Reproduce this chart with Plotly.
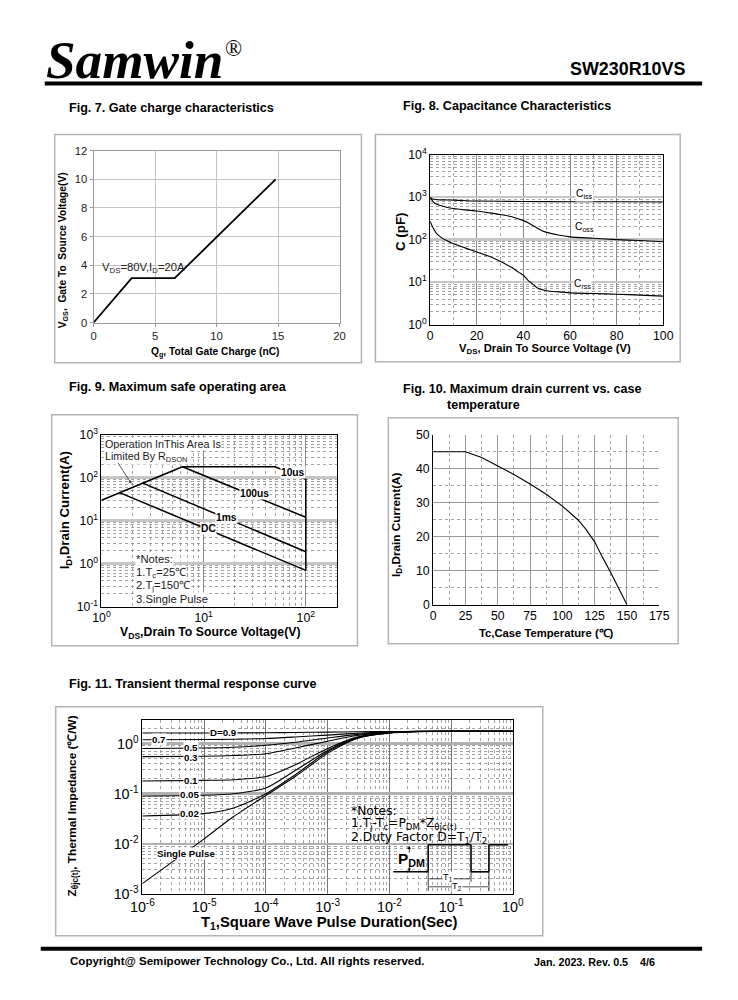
import math
import plotly.graph_objects as go

W, H = 738, 1000
FONT = "Liberation Sans, Arial, Helvetica, sans-serif"
SERIF = "Liberation Serif, Times New Roman, serif"
WIDE = "DejaVu Sans, Verdana, sans-serif"

# the photographed page is shrunk into a padded frame; place items so they land where intended
OFFX, SX = 9.15, 0.9727
OFFY, SY = 8.44, 0.9827
FS = 1.0 / ((SX + SY) / 2)

# ---------------- data ----------------
# Fig 7 gate charge
QG = [0, 3.1, 6.6, 14.8]
VGS = [0, 3.1, 3.1, 10.0]

# Fig 8 capacitance
CISS_V = [0, 1, 3, 6, 10, 20, 40, 60, 80, 100]
CISS = [980, 900, 870, 860, 850, 810, 790, 780, 775, 770]
COSS_V = [0, 1, 2, 4, 7, 10, 15, 20, 25, 30, 35, 40, 42, 44, 46, 48, 50, 55, 60, 70, 80, 90, 100]
COSS = [980, 820, 720, 640, 580, 540, 500, 470, 430, 390, 345, 280, 250, 215, 185, 162, 148, 128, 116, 108, 100, 95, 89]
CRSS_V = [0, 1, 2, 3, 5, 7, 10, 15, 20, 25, 30, 35, 38, 40, 42, 44, 46, 50, 55, 60, 70, 80, 90, 100]
CRSS = [270, 200, 160, 135, 110, 95, 80, 64, 51, 41, 31, 22, 17, 14.5, 11, 9, 7.3, 6.3, 5.9, 5.6, 5.4, 5.2, 4.95, 4.7]

# Fig 9 safe operating area
RDS_V = [1, 6.2]
RDS_I = [30, 180]
T10US_V = [6.2, 50, 100, 100]
T10US_I = [180, 180, 92, 0.7]
T100US_V = [6.2, 100]
T100US_I = [180, 12]
T1MS_V = [2.5, 100]
T1MS_I = [76, 1.9]
DC_V = [1.5, 100]
DC_I = [45, 0.7]

# Fig 10 drain current vs case temperature
TC = [0, 25, 37.5, 50, 62.5, 75, 87.5, 100, 112, 118, 125, 131, 137.5, 150]
ID_TC = [45, 45, 43.3, 40.8, 38.3, 35.5, 32.5, 29, 25, 22.3, 18.5, 14, 9.4, 0]

# Fig 11 transient thermal impedance
T_PULSE = [1e-6, 1e-5, 3e-5, 1e-4, 3e-4, 1e-3, 3e-3, 1e-2, 3e-2, 1e-1, 1]
Z_D09 = [1.63, 1.63, 1.64, 1.65, 1.67, 1.70, 1.73, 1.75, 1.76, 1.77, 1.77]
Z_D07 = [1.20, 1.21, 1.23, 1.27, 1.36, 1.48, 1.62, 1.72, 1.76, 1.77, 1.77]
Z_D05 = [0.80, 0.82, 0.85, 0.93, 1.07, 1.30, 1.53, 1.70, 1.76, 1.77, 1.77]
Z_D03 = [0.55, 0.56, 0.58, 0.63, 0.82, 1.12, 1.46, 1.68, 1.75, 1.77, 1.77]
Z_D01 = [0.18, 0.185, 0.19, 0.22, 0.38, 0.80, 1.35, 1.66, 1.75, 1.77, 1.77]
Z_D005 = [0.09, 0.093, 0.10, 0.13, 0.29, 0.73, 1.31, 1.65, 1.75, 1.77, 1.77]
Z_D002 = [0.036, 0.040, 0.052, 0.10, 0.24, 0.69, 1.29, 1.64, 1.75, 1.77, 1.77]
Z_SINGLE = [0.0016, 0.0125, 0.035, 0.092, 0.22, 0.64, 1.27, 1.63, 1.74, 1.77, 1.77]

CAP_TICKS = [1, 10, 100, 1000, 10000]
SOA_XTICKS = [1, 10, 100]
SOA_YTICKS = [0.1, 1, 10, 100, 1000]
ZTH_XTICKS = [1e-6, 1e-5, 1e-4, 1e-3, 1e-2, 1e-1, 1]
ZTH_YTICKS = [1e-3, 1e-2, 1e-1, 1]


def px(x):
    return ((x - OFFX) / SX) / W


def py(y):
    return 1 - ((y - OFFY) / SY) / H


def fs(s):
    return round(s * FS, 2)


def pow_text(v):
    return "10<sup>%d</sup>" % round(math.log10(v))


def log_minor(e0, e1):
    return [m * 10.0 ** e for e in range(e0, e1) for m in range(2, 10)]


annotations = []
shapes = []


def ann(x, y, text, size=11, xanchor="center", yanchor="middle", angle=0,
        family=FONT, color="#000", bg=None):
    d = dict(x=px(x), y=py(y), xref="paper", yref="paper", text=text, showarrow=False,
             xanchor=xanchor, yanchor=yanchor, textangle=angle, borderpad=0,
             font=dict(family=family, size=fs(size), color=color))
    if bg:
        d["bgcolor"] = bg
    annotations.append(d)


def rect(x0, y0, x1, y1, line_color=None, fill=None, width=1.0):
    shapes.append(dict(type="rect", xref="paper", yref="paper",
                       x0=px(x0), y0=py(y1), x1=px(x1), y1=py(y0),
                       line=dict(color=line_color or "rgba(0,0,0,0)", width=width if line_color else 0),
                       fillcolor=fill or "rgba(0,0,0,0)"))


def seg(x0, y0, x1, y1, color="black", width=1.2):
    shapes.append(dict(type="line", xref="paper", yref="paper",
                       x0=px(x0), y0=py(y0), x1=px(x1), y1=py(y1),
                       line=dict(color=color, width=width)))


def arrow(xh, yh, dx, dy, color="black", width=1.0):
    annotations.append(dict(x=px(xh), y=py(yh), xref="paper", yref="paper", text="",
                            showarrow=True, ax=dx / SX, ay=dy / SY, arrowhead=2, arrowsize=0.8,
                            arrowwidth=width, arrowcolor=color))


fig = go.Figure()

# ---------------- traces ----------------
fig.add_trace(go.Scatter(x=QG, y=VGS, mode="lines", line=dict(color="black", width=1.8),
                         xaxis="x", yaxis="y"))

for xs, ys in [(CISS_V, CISS), (COSS_V, COSS), (CRSS_V, CRSS)]:
    fig.add_trace(go.Scatter(x=xs, y=ys, mode="lines", line=dict(color="black", width=1.1, shape="spline", smoothing=0.6),
                             xaxis="x2", yaxis="y2"))

for xs, ys in [(RDS_V, RDS_I), (T10US_V, T10US_I), (T100US_V, T100US_I), (T1MS_V, T1MS_I), (DC_V, DC_I)]:
    fig.add_trace(go.Scatter(x=xs, y=ys, mode="lines", line=dict(color="black", width=1.5),
                             xaxis="x3", yaxis="y3"))

fig.add_trace(go.Scatter(x=TC, y=ID_TC, mode="lines", line=dict(color="black", width=1.1),
                         xaxis="x4", yaxis="y4"))

for zs in [Z_D09, Z_D07, Z_D05, Z_D03, Z_D01, Z_D005, Z_D002, Z_SINGLE]:
    fig.add_trace(go.Scatter(x=T_PULSE, y=zs, mode="lines",
                             line=dict(color="black", width=1.1, shape="spline", smoothing=0.7),
                             xaxis="x5", yaxis="y5"))

# ---------------- axes ----------------
DOT = dict(showgrid=True, griddash="dot", gridcolor="#8c8c8c", gridwidth=0.8)

layout = dict(
    width=W, height=H, margin=dict(l=0, r=0, t=0, b=0), autosize=False,
    paper_bgcolor="white", plot_bgcolor="white", showlegend=False, hovermode=False,
    font=dict(family=FONT, color="black"),
)


def xdom(a, b):
    return [px(a), px(b)]


def ydom(bottom, top):
    return [py(bottom), py(top)]


# Fig 7
layout["xaxis"] = dict(domain=xdom(91, 338), range=[0, 20], dtick=5, tick0=0, anchor="y",
                       showgrid=True, gridcolor="#c4c4c4", zeroline=False, showline=True,
                       linecolor="#9a9a9a", mirror=True, ticks="outside", ticklen=3, tickcolor="#9a9a9a",
                       tickfont=dict(size=fs(11), color="#222"))
layout["yaxis"] = dict(domain=ydom(322, 150), range=[0, 12], dtick=2, tick0=0, anchor="x",
                       showgrid=True, gridcolor="#c4c4c4", zeroline=False, showline=True,
                       linecolor="#9a9a9a", mirror=True, ticks="outside", ticklen=3, tickcolor="#9a9a9a",
                       tickfont=dict(size=fs(11), color="#222"))
# Fig 8
layout["xaxis2"] = dict(domain=xdom(429, 663), range=[0, 100], dtick=20, tick0=0, anchor="y2",
                        showgrid=True, gridcolor="#8a8a8a", gridwidth=1, zeroline=False,
                        showline=True, linecolor="black", mirror=True, ticks="",
                        minor=dict(dtick=10, tick0=0, **DOT), tickfont=dict(size=fs(12)))
layout["yaxis2"] = dict(domain=ydom(324, 154), type="log", range=[0, 4], anchor="x2",
                        tickmode="array", tickvals=CAP_TICKS, ticktext=[pow_text(v) for v in CAP_TICKS],
                        showgrid=True, gridcolor="#c6c6c6", gridwidth=2.5, zeroline=False,
                        showline=True, linecolor="black", mirror=True, ticks="",
                        minor=dict(tickvals=log_minor(0, 4), **DOT), tickfont=dict(size=fs(12)))
# Fig 9
layout["xaxis3"] = dict(domain=xdom(99, 335), type="log", range=[0, math.log10(200)], anchor="y3",
                        tickmode="array", tickvals=SOA_XTICKS, ticktext=[pow_text(v) for v in SOA_XTICKS],
                        showgrid=True, gridcolor="#8a8a8a", gridwidth=1, zeroline=False,
                        showline=True, linecolor="black", mirror=True, ticks="",
                        minor=dict(tickvals=log_minor(0, 3), **DOT), tickfont=dict(size=fs(12)))
layout["yaxis3"] = dict(domain=ydom(606, 434), type="log", range=[-1, 3], anchor="x3",
                        tickmode="array", tickvals=SOA_YTICKS, ticktext=[pow_text(v) for v in SOA_YTICKS],
                        showgrid=True, gridcolor="#c6c6c6", gridwidth=2.5, zeroline=False,
                        showline=True, linecolor="black", mirror=True, ticks="",
                        minor=dict(tickvals=log_minor(-1, 3), **DOT), tickfont=dict(size=fs(12)))
# Fig 10
layout["xaxis4"] = dict(domain=xdom(432, 659), range=[0, 175], dtick=25, tick0=0, anchor="y4",
                        showgrid=True, gridcolor="#9a9a9a", zeroline=False,
                        showline=True, linecolor="black", mirror=False, ticks="",
                        minor=dict(dtick=12.5, tick0=0, **DOT), tickfont=dict(size=fs(12)))
layout["yaxis4"] = dict(domain=ydom(604, 434), range=[0, 50], dtick=10, tick0=0, anchor="x4",
                        showgrid=True, gridcolor="#9a9a9a", zeroline=False,
                        showline=True, linecolor="black", mirror=False, ticks="",
                        minor=dict(dtick=5, tick0=0, **DOT), tickfont=dict(size=fs(12)))
# Fig 11
layout["xaxis5"] = dict(domain=xdom(140, 512), type="log", range=[-6, 0], anchor="y5",
                        tickmode="array", tickvals=ZTH_XTICKS, ticktext=[pow_text(v) for v in ZTH_XTICKS],
                        showgrid=True, gridcolor="#777777", gridwidth=1, zeroline=False,
                        showline=True, linecolor="black", mirror=True, ticks="",
                        minor=dict(tickvals=log_minor(-6, 0), **DOT), tickfont=dict(size=fs(14)))
layout["yaxis5"] = dict(domain=ydom(893, 719), type="log", range=[-3, math.log10(3)], anchor="x5",
                        tickmode="array", tickvals=ZTH_YTICKS, ticktext=[pow_text(v) for v in ZTH_YTICKS],
                        showgrid=True, gridcolor="#b0b0b0", gridwidth=2.5, zeroline=False,
                        showline=True, linecolor="black", mirror=True, ticks="",
                        minor=dict(tickvals=log_minor(-3, 1), **DOT), tickfont=dict(size=fs(14)))

# ---------------- page furniture ----------------
ann(42, 60, "<b><i>Samwin</i></b>", size=52, xanchor="left", family=SERIF)
ann(222, 48, "®", size=22, xanchor="left", family=SERIF)
ann(686, 68, "<b>SW230R10VS</b>", size=17.5, xanchor="right")
rect(42, 81, 702, 85, fill="black")
rect(38, 946, 702, 950, fill="black")
ann(66, 960, "<b>Copyright@ Semipower Technology Co., Ltd. All rights reserved.</b>", size=11.3, xanchor="left")
ann(656, 961, "<b>Jan. 2023. Rev. 0.5&nbsp;&nbsp;&nbsp;&nbsp;4/6</b>", size=10.5, xanchor="right")

# figure titles
ann(65, 107, "<b>Fig. 7. Gate charge characteristics</b>", size=12.3, xanchor="left")
ann(401, 105, "<b>Fig. 8. Capacitance Characteristics</b>", size=12.3, xanchor="left")
ann(65, 386, "<b>Fig. 9. Maximum safe operating area</b>", size=12.3, xanchor="left")
ann(401, 388, "<b>Fig. 10. Maximum drain current vs. case</b>", size=12.3, xanchor="left")
ann(445, 404, "<b>temperature</b>", size=12.3, xanchor="left")
ann(65, 683, "<b>Fig. 11. Transient thermal response curve</b>", size=12.3, xanchor="left")

# frames
FR = "#b4b4b4"
rect(52, 134, 360, 362, line_color=FR, width=1.5)
rect(374, 134, 680, 361, line_color=FR, width=1.5)
rect(49, 414, 356, 645, line_color=FR, width=1.5)
rect(387, 417, 678, 643, line_color=FR, width=1.5)
rect(53, 706, 542, 935, line_color=FR, width=1.5)

# Fig 7 texts
ann(61, 250, "<b>V<sub>GS</sub>,  Gate To  Source Voltage(V)</b>", size=10, angle=-90)
ann(213, 352, "<b>Q<sub>g</sub>, Total Gate Charge (nC)</b>", size=10)
ann(141, 267, "V<sub>DS</sub>=80V,I<sub>D</sub>=20A", size=11, color="#222")

# Fig 8 texts
ann(399, 231, "<b>C (pF)</b>", size=13, angle=-90)
ann(544, 348, "<b>V<sub>DS</sub>, Drain To Source Voltage (V)</b>", size=11)
ann(574, 194, "C<sub>iss</sub>", size=10, xanchor="left", bg="white")
ann(573, 227, "C<sub>oss</sub>", size=10, xanchor="left", bg="white")
ann(572, 284, "C<sub>rss</sub>", size=10, xanchor="left", bg="white")

# Fig 9 texts
ann(63, 510, "<b>I<sub>D</sub>,Drain Current(A)</b>", size=13, angle=-90)
ann(208, 632, "<b>V<sub>DS</sub>,Drain To Source Voltage(V)</b>", size=12)
ann(102, 443, "Operation InThis Area Is", size=10.5, xanchor="left", bg="white", color="#222")
ann(102, 456, "Limited By R<sub>DSON</sub>", size=10.5, xanchor="left", bg="white", color="#222")
arrow(129, 483, -14, -22, color="#333", width=0.8)
ann(291, 472, "<b>10us</b>", size=10, bg="white")
ann(253, 493, "<b>100us</b>", size=10, bg="white")
ann(225, 517, "<b>1ms</b>", size=10, bg="white")
ann(206, 528, "<b>DC</b>", size=10, bg="white")
ann(133, 558, "*Notes:", size=11, xanchor="left", bg="white", color="#222")
ann(133, 572, "1.T<sub>c</sub>=25℃", size=11, xanchor="left", bg="white", color="#222")
ann(133, 585, "2.T<sub>j</sub>=150℃", size=11, xanchor="left", bg="white", color="#222")
ann(133, 598, "3.Single Pulse", size=11, xanchor="left", bg="white", color="#222")

# Fig 10 texts
ann(395, 524, "<b>I<sub>D</sub>,Drain Current(A)</b>", size=11.5, angle=-90)
ann(546, 632, "<b>Tc,Case Temperature (℃)</b>", size=11)

# Fig 11 texts
ann(70, 805, "<b>Z<sub>θjc(t)</sub>, Thermal Impedance (℃/W)</b>", size=11.5, angle=-90)
ann(328, 922, "<b>T<sub>1</sub>,Square Wave Pulse Duration(Sec)</b>", size=14.5)
for (x, y, t) in [(221, 732, "D=0.9"), (157, 739, "0.7"), (189, 747, "0.5"), (189, 757, "0.3"),
                  (189, 780, "0.1"), (188, 794, "0.05"), (188, 813, "0.02"), (184, 853, "Single Pulse")]:
    ann(x, y, "<b>%s</b>" % t, size=9.5, bg="white")
ann(348, 810, "*Notes:", size=12, xanchor="left", family=WIDE)
ann(348, 823, "1.T<sub>j</sub>-T<sub>c</sub>=P<sub>DM</sub>*Z<sub>θjc(t)</sub>", size=12, xanchor="left", family=WIDE)
ann(348, 837, "2.Duty Factor D=T<sub>1</sub>/T<sub>2</sub>", size=12, xanchor="left", family=WIDE)

# pulse sketch
PW = 1.6
seg(392, 871, 427, 871, width=PW)
seg(427, 871, 427, 844, width=PW)
seg(427, 844, 470, 844, width=PW)
seg(470, 844, 470, 871, width=PW)
seg(470, 871, 488, 871, width=PW)
seg(488, 871, 488, 844, width=PW)
seg(488, 844, 507, 844, width=PW)
seg(427, 871, 427, 890, width=0.8)
seg(470, 871, 470, 881, width=0.8)
seg(488, 871, 488, 890, width=0.8)
seg(428, 878, 469, 878, width=0.7)
seg(428, 886, 487, 886, width=0.7)
ann(447, 877, "T<sub>1</sub>", size=9, bg="white")
ann(456, 886, "T<sub>2</sub>", size=9, bg="white")
ann(410, 859, "<b>P<sub>DM</sub></b>", size=15, bg="white")
arrow(408, 845, 0, 8, width=0.8)
arrow(408, 871, 0, -6, width=0.8)

layout["annotations"] = annotations
layout["shapes"] = shapes
fig.update_layout(**layout)
fig.write_html(
    "out.html",
    config={"displayModeBar": False, "staticPlot": True},
    post_script="document.body.style.margin='0';document.body.style.padding='0';"
                "document.documentElement.style.overflow='hidden';",
)
